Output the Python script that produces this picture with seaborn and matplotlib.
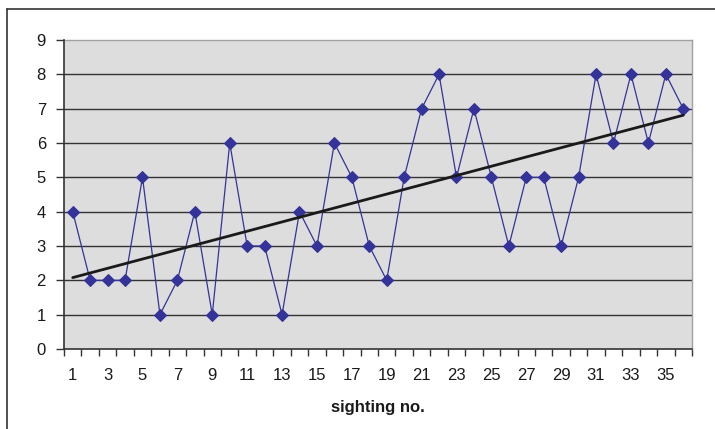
import numpy as np
import pandas as pd
import matplotlib
matplotlib.use("Agg")
import matplotlib.pyplot as plt
from matplotlib.lines import Line2D
import seaborn as sns

# Sightings and the count recorded at each
sighting = list(range(1, 37))
count = [4, 2, 2, 2, 5, 1, 2, 4, 1, 6,
         3, 3, 1, 4, 3, 6, 5, 3, 2, 5,
         7, 8, 5, 7, 5, 3, 5, 5, 3, 5,
         8, 6, 8, 6, 8, 7]
x_tick_labels = [str(v) for v in range(1, 37, 2)]
y_ticks = list(range(0, 10))

df = pd.DataFrame({"sighting": sighting, "count": count})

sns.set_theme(style="white")
plt.rcParams["font.family"] = ["Liberation Sans", "DejaVu Sans"]

fig = plt.figure(figsize=(7.15, 4.29), dpi=100)
ax = fig.add_axes([64 / 715, 1 - 349 / 429, 628 / 715, 309 / 429])
ax.set_facecolor("#dddddd")

# gridlines
for v in y_ticks[1:-1]:
    ax.axhline(v, color="#333333", lw=1.0, zorder=1)

sns.lineplot(data=df, x="sighting", y="count", ax=ax, color="#333399",
             lw=0.9, marker="D", markersize=6, markeredgecolor="#333399",
             zorder=3)
sns.regplot(data=df, x="sighting", y="count", ax=ax, scatter=False, ci=None,
            truncate=True, line_kws={"color": "#1a1a1a", "lw": 2.0, "zorder": 4})

ax.set_xlim(0.5, 36.5)
ax.set_ylim(0, 9)
ax.set_yticks(y_ticks)
ax.set_yticklabels([str(v) for v in y_ticks], fontsize=12)
ax.set_xticks(range(1, 37, 2))
ax.set_xticklabels(x_tick_labels, fontsize=12)
ax.set_xticks(np.arange(0.5, 37, 1), minor=True)
ax.tick_params(axis="x", which="major", length=0, pad=14, colors="#1a1a1a")
ax.tick_params(axis="x", which="minor", length=5, width=1, color="#333333",
               direction="out", bottom=True)
ax.tick_params(axis="y", which="major", length=6, width=1, color="#333333",
               direction="out", left=True, pad=7, colors="#1a1a1a")
ax.tick_params(axis="y", which="major", color="#333333")

ax.set_xlabel("sighting no.", fontsize=12, fontweight="bold", labelpad=12,
              color="#1a1a1a")
ax.set_ylabel("")

for side in ["top", "right"]:
    ax.spines[side].set_color("#a0a0a0")
    ax.spines[side].set_linewidth(1.0)
for side in ["left", "bottom"]:
    ax.spines[side].set_color("#333333")
    ax.spines[side].set_linewidth(1.2)
    ax.spines[side].set_zorder(5)

# outer frame of the chart area
fx, fy = 7 / 715, 1 - 9 / 429
fig.add_artist(Line2D([fx, fx], [0, fy], transform=fig.transFigure,
                      color="#333333", lw=1.2))
fig.add_artist(Line2D([fx, 1], [fy, fy], transform=fig.transFigure,
                      color="#333333", lw=1.2))

fig.savefig("out.png", dpi=100, facecolor="white")
